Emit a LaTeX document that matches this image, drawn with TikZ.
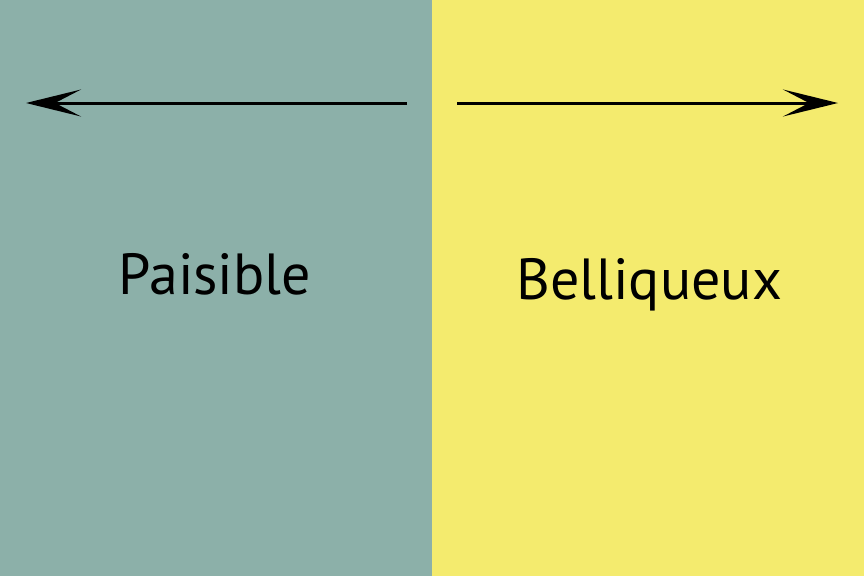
\documentclass[tikz,border=0pt]{standalone}
\usepackage{fontspec}
\setmainfont{PT Sans}
\usetikzlibrary{arrows.meta}
\definecolor{calm}{HTML}{8CB0A9}
\definecolor{war}{HTML}{F4EB6E}
\tikzset{
  side/.style={draw=none},
  dirarrow/.style={line width=3pt,-{Stealth[length=55pt,width=27pt,inset=26pt]}},
  label/.style={font=\fontsize{58}{70}\selectfont,anchor=base,inner sep=0pt,text=black}
}
\begin{document}
\begin{tikzpicture}[x=1pt,y=-1pt]
\useasboundingbox (0,0) rectangle (864,576);
\fill[calm] (0,0) rectangle (432,576);
\fill[war] (432,0) rectangle (864,576);
\coordinate (ls) at (407,103);
\coordinate (le) at (26,103);
\coordinate (rs) at (457,103);
\coordinate (re) at (838,103);
\draw[dirarrow] (ls) -- (le);
\draw[dirarrow] (rs) -- (re);
\node[label] (p) at (215,294) {Paisible};
\node[label] (b) at (649,299) {Belliqueux};
\end{tikzpicture}
\end{document}
